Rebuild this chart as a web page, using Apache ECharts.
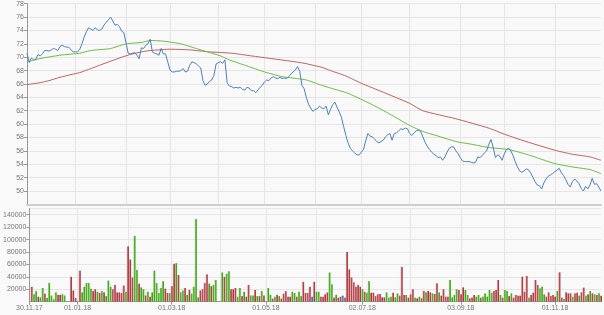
<!DOCTYPE html>
<html><head><meta charset="utf-8">
<script src="https://cdn.jsdelivr.net/npm/echarts@6/dist/echarts.min.js"></script>
<style>html,body{margin:0;padding:0;background:#f9f9f9}#c{width:604px;height:315px}</style>
</head><body><div id="c"></div><script>
const startDate = '2017-11-30';
const endDate = '2018-11-30';
const tickLabels = ['30.11.17','01.01.18','01.03.18','01.05.18','02.07.18','03.09.18','01.11.18'];
const priceTicks = [50,52,54,56,58,60,62,64,66,68,70,72,74,76,78];
const volumeTicks = [20000,40000,60000,80000,100000,120000,140000];

const close = [
70.6,69.2,69.9,69.6,69.7,70.4,70.2,70.5,71.0,71.0,
70.9,71.1,71.3,71.2,71.0,71.6,71.8,71.6,71.5,71.5,
71.1,70.8,70.8,70.8,71.2,72.0,73.0,73.8,74.4,74.2,
74.0,74.4,74.1,74.0,74.2,74.8,75.2,75.6,76.0,75.4,
74.8,74.9,74.6,73.9,73.7,72.2,70.6,70.5,70.6,70.7,
70.3,69.8,71.4,71.3,71.8,72.0,72.7,70.8,70.6,70.5,
70.3,71.3,70.5,70.5,69.3,68.1,67.8,67.8,67.9,67.9,
68.0,68.3,67.8,67.9,68.8,69.3,69.2,69.0,68.7,68.4,
66.5,65.8,66.0,66.4,66.6,67.3,69.0,69.2,69.3,69.1,
69.6,66.2,65.7,65.6,65.4,65.5,65.4,65.5,65.2,65.1,
65.5,65.4,65.0,65.0,64.7,65.1,65.5,65.8,66.3,66.6,
66.5,66.9,67.1,66.9,66.8,67.0,66.8,66.9,66.8,67.1,
67.5,67.8,68.1,68.6,67.9,65.8,65.3,64.0,63.0,62.4,
61.9,62.2,62.3,62.7,62.4,62.3,62.7,61.4,62.2,62.9,
63.3,62.5,61.8,61.0,59.6,58.3,57.2,56.4,56.0,55.7,
55.4,55.4,55.8,56.2,57.5,58.6,58.2,58.1,57.8,57.4,
57.2,57.4,57.6,58.1,58.4,58.6,57.6,58.6,58.7,59.0,
59.3,59.2,59.4,59.3,58.6,58.3,58.7,59.0,59.1,58.9,
58.1,57.3,56.7,56.2,55.8,55.5,55.3,55.0,55.1,54.6,
55.1,55.8,56.4,56.6,56.6,56.0,55.6,55.0,54.5,54.4,
54.4,54.4,54.3,54.2,54.3,55.1,55.0,55.3,55.7,56.0,
57.0,57.7,56.5,55.0,55.4,55.2,54.6,55.5,56.2,56.4,
56.0,55.3,54.4,53.6,53.0,52.8,53.0,53.3,53.2,52.7,
52.1,51.4,50.9,50.8,50.3,51.2,51.8,52.2,52.4,52.6,
52.9,53.1,53.4,52.7,52.3,51.7,51.0,50.6,51.4,51.8,
51.5,51.1,50.4,50.0,50.7,50.3,50.9,51.9,51.0,51.1,
50.6,50.0
];

// long moving average (red), read at these category positions
const maLongIdx = [0,6,10,15,20,24,29,33,38,43,47,52,56,60,65,74,83,93,102,111,120,126,130,134,138,145,152,161,174,180,195,210,217,225,240,248,256,261];
const maLongVal = [65.9,66.2,66.5,67.0,67.4,67.7,68.3,68.8,69.4,70.0,70.4,70.8,71.0,71.1,71.2,71.1,70.8,70.6,70.2,69.8,69.4,69.1,68.8,68.5,68.0,67.2,66.1,64.9,63.1,62.0,60.8,59.4,58.5,57.6,56.1,55.5,55.1,54.6];

// short moving average (green)
const maShortIdx = [0,6,15,24,29,38,45,52,56,62,70,77,82,88,92,100,108,116,123,127,134,138,146,157,165,174,180,186,195,202,210,219,228,240,248,256,261];
const maShortVal = [69.3,69.8,70.3,70.6,71.0,71.3,72.0,72.2,72.5,72.4,72.0,71.3,70.8,70.2,69.6,68.7,67.8,67.1,66.8,66.6,65.8,65.4,64.6,62.9,61.5,59.8,58.9,58.3,57.4,57.0,56.5,56.2,55.4,54.1,53.6,53.2,52.6];

const volume = [
null,24000,12000,17000,8000,7000,22000,13000,6000,30000,
10000,4000,15000,11000,11000,12000,10000,null,null,40000,
18000,6000,null,50000,15000,24000,30000,30000,21000,17000,
20000,16000,14000,17000,15000,9000,34000,24000,20000,27000,
15000,15000,14000,26000,16000,89000,68000,39000,106000,51000,
29000,23000,20000,10000,16000,8000,15000,50000,30000,14000,
22000,33000,21000,14000,14000,25000,61000,62000,43000,15000,
18000,22000,11000,19000,13000,24000,133000,7000,18000,20000,
30000,44000,29000,25000,27000,35000,null,null,47000,40000,
45000,49000,20000,20000,22000,8000,22000,9000,16000,8000,
27000,10000,10000,19000,9000,9000,17000,10000,null,22000,
11000,5000,8000,11000,9000,5000,13000,17000,8000,8000,
16000,14000,8000,16000,9000,32000,14000,14000,24000,8000,
32000,16000,16000,8000,8000,12000,15000,47000,28000,6500,
11000,6500,8000,9700,6500,80000,52000,39000,31000,24000,
27000,24000,20000,16000,14500,33000,14500,14500,9000,12000,
12400,7000,7000,15000,6500,8000,14500,7000,13400,9700,
56000,10750,10750,6500,11800,20000,6500,5400,8100,5400,
17200,15000,17200,15000,13400,12400,29600,15000,9700,20000,
8100,8100,35000,7000,10750,19900,18800,11800,23100,18800,
10750,5400,6500,10750,8100,10750,6500,8100,13400,8100,
18800,14500,17200,18800,34900,10750,6500,18800,17200,9000,
13400,6500,10750,9700,9700,40300,16100,41400,6500,10750,
14500,34900,26900,21500,24200,11800,8100,15000,9100,10750,
8100,17200,47300,6500,4300,15000,13400,13400,8100,13400,
14500,9700,15000,22600,9700,11800,17200,13400,11800,10750,
13400,9700
];
// 1 = up (green), -1 = down (red), 0 = unchanged (blue)
const volumeDir = [
0,-1,1,1,-1,1,1,-1,1,1,
1,1,1,-1,-1,1,1,0,0,-1,
-1,-1,0,-1,1,1,1,1,1,-1,
-1,1,-1,1,-1,1,1,1,-1,-1,
-1,-1,-1,-1,1,-1,-1,-1,1,1,
-1,1,1,-1,1,-1,1,1,1,1,
1,1,-1,-1,1,-1,-1,1,-1,1,
1,-1,1,-1,1,1,1,1,-1,-1,
-1,-1,1,-1,1,1,0,0,1,-1,
1,1,-1,-1,-1,1,1,-1,1,-1,
-1,1,1,-1,1,-1,1,-1,0,1,
1,-1,1,-1,1,-1,-1,-1,-1,-1,
1,1,-1,1,1,-1,-1,-1,-1,0,
-1,1,1,-1,-1,-1,-1,1,1,-1,
1,-1,-1,0,-1,-1,-1,-1,-1,-1,
-1,-1,1,-1,1,1,-1,-1,-1,-1,
-1,-1,-1,1,1,1,-1,1,1,-1,
-1,-1,1,-1,-1,-1,1,-1,1,-1,
-1,1,-1,-1,1,-1,-1,1,-1,-1,
-1,-1,1,1,1,1,-1,-1,-1,1,
1,-1,-1,-1,1,1,-1,1,1,1,
1,1,-1,-1,-1,1,-1,1,1,-1,
1,-1,-1,-1,-1,-1,-1,-1,1,-1,
-1,-1,-1,1,1,1,-1,-1,-1,-1,
-1,1,-1,-1,1,-1,-1,-1,1,-1,
-1,1,-1,-1,1,-1,1,-1,1,-1,
1,-1
];

// trading-day categories (weekdays)
function pad(n){return (n<10?'0':'')+n;}
const dates = [];
const monthStart = [];
(function(){
  const d = new Date(startDate+'T12:00:00Z'), e = new Date(endDate+'T12:00:00Z');
  let prevMonth = null;
  while (d <= e) {
    const wd = d.getUTCDay();
    if (wd !== 0 && wd !== 6) {
      const m = d.getUTCMonth();
      monthStart.push(prevMonth !== null && m !== prevMonth);
      prevMonth = m;
      dates.push(pad(d.getUTCDate())+'.'+pad(m+1)+'.'+String(d.getUTCFullYear()).slice(2));
    }
    d.setUTCDate(d.getUTCDate()+1);
  }
})();

const LG = echarts.graphic.LinearGradient;
const barColors = {
  '1': new LG(0,0,1,0,[{offset:0,color:'#a6dc86'},{offset:0.45,color:'#58b530'},{offset:1,color:'#2f8f12'}]),
  '-1': new LG(0,0,1,0,[{offset:0,color:'#e3a4a6'},{offset:0.45,color:'#bd555b'},{offset:1,color:'#98222a'}]),
  '0': new LG(0,0,1,0,[{offset:0,color:'#8fb5e6'},{offset:0.45,color:'#4a7fc4'},{offset:1,color:'#23589e'}])
};

const labelFont = {color:'#777', fontSize:7, fontFamily:'Liberation Sans'};
const gridColor = '#e6e6e6';

const chart = echarts.init(document.getElementById('c'), null, {renderer:'canvas'});
chart.setOption({
  backgroundColor:'#f9f9f9',
  animation:false,
  grid:[
    {left:27, right:3, top:3.7, height:200.7, containLabel:false},
    {left:27, right:3, top:208.5, height:93.2, containLabel:false}
  ],
  xAxis:[
    {type:'category', gridIndex:0, data:dates, boundaryGap:false,
     axisLine:{lineStyle:{color:'#cfcfcf', width:2}}, axisTick:{show:false}, axisLabel:{show:false},
     splitLine:{show:true, interval:(i)=>monthStart[i] && i>1, lineStyle:{color:gridColor, width:1}}},
    {type:'category', gridIndex:1, data:dates, boundaryGap:false,
     axisLine:{lineStyle:{color:'#999', width:1}},
     axisTick:{show:true, length:3, interval:(i,v)=>tickLabels.includes(v), lineStyle:{color:'#999'}},
     axisLabel:Object.assign({interval:(i,v)=>tickLabels.includes(v), margin:3}, labelFont),
     splitLine:{show:true, interval:(i)=>monthStart[i] && i>1, lineStyle:{color:gridColor, width:1}}}
  ],
  yAxis:[
    {type:'value', gridIndex:0, min:48, max:78, interval:2, scale:true,
     axisLine:{show:true, lineStyle:{color:'#999'}}, axisTick:{show:true, length:3, lineStyle:{color:'#999'}},
     axisLabel:Object.assign({margin:3, showMinLabel:false, formatter:(v)=>priceTicks.includes(v)?String(v):''}, labelFont),
     splitLine:{lineStyle:{color:gridColor}}},
    {type:'value', gridIndex:1, min:0, max:150000, interval:20000,
     axisLine:{show:true, lineStyle:{color:'#999'}}, axisTick:{show:true, length:3, lineStyle:{color:'#999'}},
     axisLabel:Object.assign({margin:3, showMinLabel:false, showMaxLabel:false, formatter:(v)=>volumeTicks.includes(v)?String(v):''}, labelFont),
     splitLine:{lineStyle:{color:gridColor}}}
  ],
  series:[
    {type:'line', xAxisIndex:0, yAxisIndex:0, data:maLongIdx.map((x,k)=>[x,maLongVal[k]]), showSymbol:false, smooth:0.2,
     lineStyle:{color:'#c0625f', width:1}, z:2},
    {type:'line', xAxisIndex:0, yAxisIndex:0, data:maShortIdx.map((x,k)=>[x,maShortVal[k]]), showSymbol:false, smooth:0.2,
     lineStyle:{color:'#6dbb4a', width:1}, z:3},
    {type:'line', xAxisIndex:0, yAxisIndex:0, data:close, showSymbol:false,
     lineStyle:{color:'#4f80c0', width:1}, z:4},
    {type:'bar', xAxisIndex:1, yAxisIndex:1, barWidth:2,
     data:volume.map((v,i)=>v==null?null:{value:v, itemStyle:{color:barColors[String(volumeDir[i])]}})}
  ]
});
</script></body></html>
